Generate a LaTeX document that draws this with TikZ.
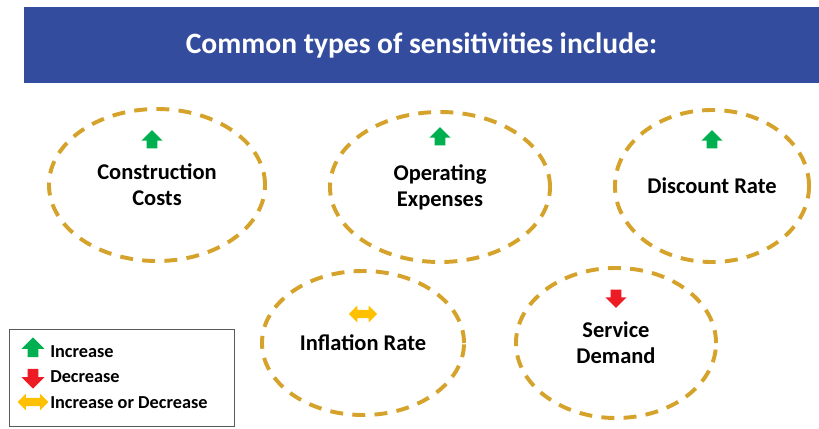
\documentclass[tikz,border=0pt]{standalone}
\usepackage{fontspec}
\setmainfont{Carlito}
\usepackage{tikz}
\usetikzlibrary{positioning}
\usetikzlibrary{shapes.geometric, shapes.arrows}
\definecolor{bannerblue}{RGB}{52,76,158}
\definecolor{ringgold}{RGB}{213,163,43}
\definecolor{upgreen}{RGB}{0,176,80}
\definecolor{downred}{RGB}{237,28,36}
\definecolor{bothyellow}{RGB}{255,192,0}
\tikzstyle{ring} = [ellipse,draw=ringgold,line width=2.8pt,dash pattern=on 9.2pt off 6.6pt,align=center,font=\bfseries\fontsize{16}{18.5}\selectfont,inner sep=0pt]
\tikzstyle{uparrow} = [single arrow,fill=upgreen,rotate=90,inner sep=3.7pt,single arrow head extend=3.6pt,minimum height=13pt,single arrow head indent=0pt]
\tikzstyle{downarrow} = [uparrow,fill=downred,rotate=180]
\tikzstyle{botharrow} = [double arrow,fill=bothyellow,inner sep=2.8pt,double arrow head extend=3pt,minimum height=20pt,double arrow head indent=0pt]
\tikzstyle{legtext} = [anchor=west,inner sep=0pt,font=\bfseries\fontsize{13}{15}\selectfont]

\begin{document}
\begin{tikzpicture}[x=0.025cm,y=-0.025cm]
					\useasboundingbox (0,0) rectangle (819,428);
					
					%Banner
					\node (banner) [fill=bannerblue,minimum width=19.875cm,minimum height=1.9cm,inner sep=0pt,text=white,font=\bfseries\fontsize{21}{25}\selectfont] at (421.5,45) {Common types of sensitivities include:};
					
					%Rings
					\node (constr) [ring,minimum width=5.4cm,minimum height=3.8cm] at (157,185) {Construction\\Costs};
					\node (opex) [ring,minimum width=5.5cm,minimum height=3.75cm] at (440,187) {Operating\\Expenses};
					\node (discount) [ring,minimum width=4.85cm,minimum height=3.8cm] at (712,186) {Discount Rate};
					\node (inflation) [ring,minimum width=5.05cm,minimum height=3.6cm] at (363,343) {Inflation Rate};
					\node (service) [ring,minimum width=5cm,minimum height=3.75cm] at (616,343) {Service\\Demand};
					
					%Arrows in rings
					\node (constrUp) [uparrow] at (152,142) {};
					\node (opexUp) [uparrow] at (440,139) {};
					\node (discountUp) [uparrow] at (712,142) {};
					\node (inflationBoth) [botharrow] at (363,314) {};
					\node (serviceDown) [downarrow] at (616,296) {};
					
					%Legend
					\node (legend) [draw=black!65,thin,minimum width=5.625cm,minimum height=2.425cm,inner sep=0pt] at (121.5,377.5) {};
					\node (legInc) [legtext] at (50,352) {Increase};
					\node (legDec) [legtext] at (50,377) {Decrease};
					\node (legBoth) [legtext] at (50,403) {Increase or Decrease};
					\node (legIncArrow) [uparrow,minimum height=14pt,single arrow head extend=4.2pt] at (33,350) {};
					\node (legDecArrow) [downarrow,minimum height=14pt,single arrow head extend=4.2pt] at (33,376) {};
					\node (legBothArrow) [botharrow,minimum height=22pt] at (33,402) {};
				\end{tikzpicture}
\end{document}
